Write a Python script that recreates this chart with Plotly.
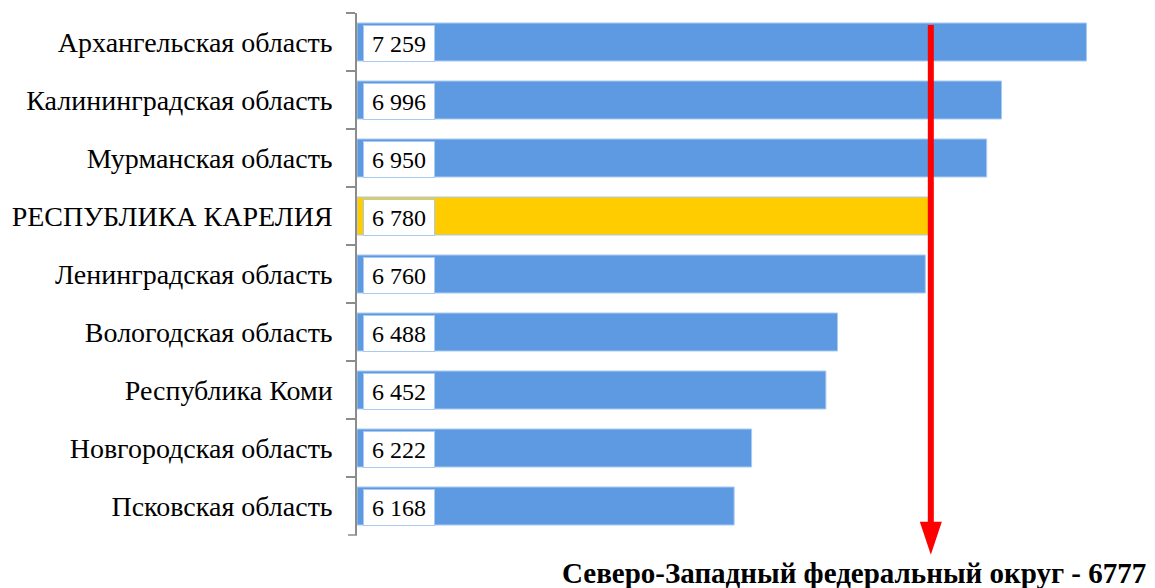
import plotly.graph_objects as go

regions = [
    "Архангельская область",
    "Калининградская область",
    "Мурманская область",
    "РЕСПУБЛИКА КАРЕЛИЯ",
    "Ленинградская область",
    "Вологодская область",
    "Республика Коми",
    "Новгородская область",
    "Псковская область",
]
values = [7259, 6996, 6950, 6780, 6760, 6488, 6452, 6222, 6168]
highlight = "РЕСПУБЛИКА КАРЕЛИЯ"
district_label = "Северо-Западный федеральный округ"
district_value = 6777
axis_min = 5000
axis_max = 7400

BLUE = "#5E9AE1"
YELLOW = "#FFCC00"
FONT = "Liberation Serif, Times New Roman, serif"
GRAY = "#8C8C8C"

colors = [YELLOW if r == highlight else BLUE for r in regions]

fig = go.Figure()
fig.add_trace(go.Bar(
    y=regions,
    x=[v - axis_min for v in values],
    base=axis_min,
    orientation="h",
    marker=dict(color=colors, line=dict(color="#A9CBF2", width=1)),
    hoverinfo="skip",
))

def fmt(v):
    return f"{v:,}".replace(",", " ")

for r, v in zip(regions, values):
    fig.add_annotation(
        x=axis_min, y=r, xref="x", yref="y",
        xanchor="left", yanchor="middle",
        xshift=6, yshift=-1,
        text=fmt(v), showarrow=False,
        font=dict(family=FONT, size=24, color="black"),
        bgcolor="white", bordercolor="#A9CBF2", borderwidth=1, borderpad=0,
        width=70, height=35, align="center",
    )

# bottom end tick of the category axis
fig.add_shape(type="line", xref="paper", yref="paper",
              xsizemode="pixel", xanchor=0, x0=-9, x1=0, y0=0, y1=0,
              line=dict(color=GRAY, width=1.5))

# district average arrow
fig.add_shape(type="line", xref="x", yref="paper",
              x0=district_value, x1=district_value, y0=0.977, y1=0.02,
              line=dict(color="#FF0000", width=6))
fig.add_shape(type="path", xref="x", yref="paper",
              xsizemode="pixel", ysizemode="pixel",
              xanchor=district_value, yanchor=-0.038,
              path="M -11,33 L 11,33 L 0,0 Z",
              fillcolor="#FF0000", line=dict(color="#FF0000", width=0))

fig.add_annotation(
    x=1.0, y=-0.073, xref="paper", yref="paper",
    xanchor="right", yanchor="middle", xshift=16,
    text=f"<b>{district_label} - {district_value}</b>", showarrow=False,
    font=dict(family=FONT, size=29, color="black"),
)

fig.update_layout(
    width=1147, height=580,
    margin=dict(l=349, r=23, t=5, b=53),
    paper_bgcolor="white", plot_bgcolor="white",
    bargap=0.345,
    showlegend=False,
    xaxis=dict(range=[axis_min, axis_max], visible=False, fixedrange=True),
    yaxis=dict(
        autorange="reversed",
        showline=True, linecolor=GRAY, linewidth=1.5,
        ticks="outside", tickson="boundaries", ticklen=9, tickcolor=GRAY, tickwidth=1.5,
        ticklabelstandoff=17,
        tickfont=dict(family=FONT, size=28, color="black"),
        showgrid=False,
    ),
)

fig.write_html("out.html")
